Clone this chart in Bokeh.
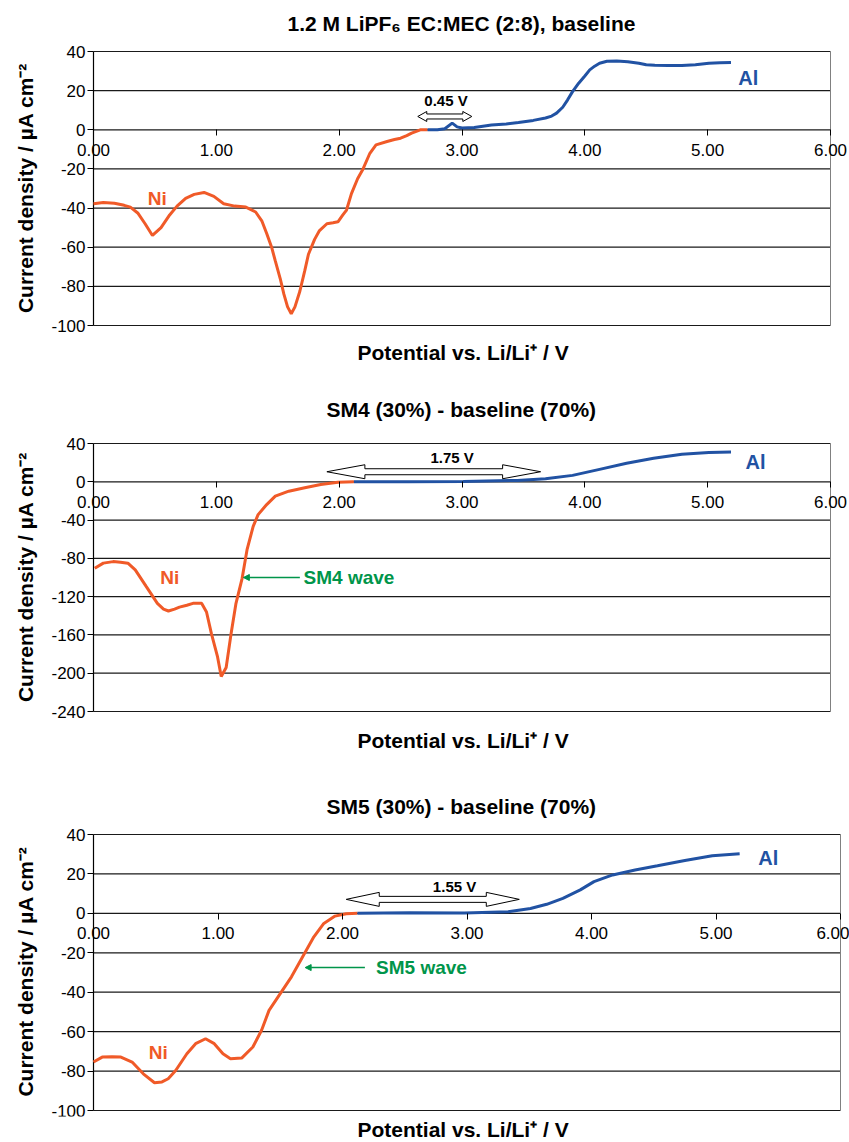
from bokeh.plotting import figure
from bokeh.layouts import column
from bokeh.models import Range1d, FixedTicker, Arrow, NormalHead, LinearAxis, Title
from bokeh.core.properties import value
from bokeh.embed import file_html
from bokeh.resources import INLINE

FONT = "Liberation Sans"
NI_COLOR = "#F05A28"
AL_COLOR = "#2152A3"
GREEN = "#00954A"

# ---------------- shared axis data ----------------
x_ticks = [0, 1, 2, 3, 4, 5, 6]
x_tick_labels = ["0.00", "1.00", "2.00", "3.00", "4.00", "5.00", "6.00"]
x_title = "Potential vs. Li/Li\u207a / V"
y_title = "Current density / \u00b5A cm\u207b\u00b2"

# ---------------- panel 1: baseline ----------------
p1_title = "1.2 M LiPF\u2086 EC:MEC (2:8), baseline"
p1_yticks = [40, 20, 0, -20, -40, -60, -80, -100]
p1_ni_x = [0.0, 0.08, 0.17, 0.25, 0.30, 0.36, 0.42, 0.48, 0.55, 0.62, 0.68, 0.75, 0.82, 0.90,
           0.98, 1.06, 1.15, 1.24, 1.32, 1.37, 1.41, 1.45, 1.48, 1.52, 1.55, 1.58, 1.61, 1.64,
           1.68, 1.72, 1.75, 1.80, 1.84, 1.90, 1.95, 1.99, 2.03, 2.06, 2.10, 2.15, 2.19, 2.25,
           2.30, 2.39, 2.45, 2.50, 2.55, 2.59, 2.66, 2.72]
p1_ni_y = [-37.8, -37.2, -37.5, -38.6, -39.5, -42.5, -48.0, -54.0, -50.0, -43.5, -39.0, -35.0, -33.0, -32.0,
           -34.0, -37.8, -39.0, -39.5, -42.0, -46.5, -53.0, -60.0, -67.0, -76.0, -84.0, -90.5, -94.0, -90.5,
           -82.5, -72.0, -63.6, -56.0, -51.5, -48.0, -47.5, -47.0, -43.5, -41.0, -32.6, -25.0, -20.6, -12.0,
           -7.7, -6.0, -5.0, -4.3, -3.0, -1.7, 0.0, 0.0]
p1_al_x = [2.72, 2.80, 2.86, 2.92, 2.96, 3.00, 3.10, 3.24, 3.36, 3.46, 3.58, 3.68, 3.73, 3.77, 3.82,
           3.86, 3.90, 3.95, 4.00, 4.04, 4.08, 4.12, 4.18, 4.26, 4.35, 4.44, 4.50, 4.57, 4.68, 4.79,
           4.90, 5.01, 5.10, 5.19]
p1_al_y = [0.0, 0.0, 0.5, 3.4, 1.5, 0.9, 1.2, 2.5, 3.0, 3.7, 4.8, 6.0, 7.0, 8.5, 11.5,
           15.3, 19.5, 23.8, 27.5, 30.6, 32.5, 34.0, 35.0, 35.2, 34.8, 34.0, 33.2, 33.0, 32.8, 32.8,
           33.2, 34.0, 34.2, 34.4]
p1_ni_label = (0.52, -35.0)
p1_al_label = (5.33, 26.5)
p1_gap = (2.64, 3.08, 6.8)       # x_start, x_end, y of the double arrow
p1_gap_text = (2.87, 15.0, "0.45 V")

# ---------------- panel 2: SM4 ----------------
p2_title = "SM4 (30%) - baseline (70%)"
p2_yticks = [40, 0, -40, -80, -120, -160, -200, -240]
p2_ni_x = [0.01, 0.08, 0.16, 0.22, 0.28, 0.34, 0.43, 0.52, 0.57, 0.61, 0.66, 0.70, 0.76, 0.81, 0.88,
           0.92, 0.96, 1.01, 1.04, 1.08, 1.12, 1.16, 1.21, 1.25, 1.30, 1.34, 1.41, 1.48, 1.59, 1.72,
           1.85, 1.99, 2.12]
p2_ni_y = [-90.4, -85.0, -83.4, -84.0, -85.0, -92.0, -109.6, -127.0, -133.0, -135.0, -133.0, -131.0, -129.0, -127.0, -127.0,
           -136.0, -158.7, -183.0, -203.5, -194.0, -158.7, -127.0, -100.9, -71.0, -46.6, -34.3, -23.8, -15.0, -9.8, -6.3,
           -2.8, -0.4, 0.0]
p2_al_x = [2.12, 2.56, 3.01, 3.45, 3.68, 3.90, 4.12, 4.34, 4.56, 4.79, 5.01, 5.19]
p2_al_y = [0.0, 0.0, 0.4, 1.4, 3.2, 6.7, 13.0, 19.3, 24.5, 28.7, 30.5, 31.0]
p2_ni_label = (0.62, -100.0)
p2_al_label = (5.39, 21.0)
p2_gap = (1.90, 3.64, 10.5)
p2_gap_text = (2.92, 25.0, "1.75 V")
p2_wave = (1.68, 1.22, -100.0, 1.71, "SM4 wave")   # arrow x_start, x_end, y, text x, text

# ---------------- panel 3: SM5 ----------------
p3_title = "SM5 (30%) - baseline (70%)"
p3_yticks = [40, 20, 0, -20, -40, -60, -80, -100]
p3_ni_x = [0.0, 0.07, 0.15, 0.22, 0.31, 0.40, 0.49, 0.55, 0.60, 0.66, 0.75, 0.82, 0.90, 0.97, 1.04,
           1.10, 1.19, 1.28, 1.35, 1.41, 1.50, 1.59, 1.68, 1.77, 1.85, 1.94, 2.03, 2.12]
p3_ni_y = [-75.4, -72.9, -72.7, -72.9, -75.4, -81.4, -85.9, -85.5, -83.9, -79.7, -71.2, -66.1, -63.6, -66.1, -71.2,
           -73.7, -73.4, -67.8, -59.3, -49.2, -40.7, -32.2, -22.0, -11.9, -5.1, -1.4, -0.2, 0.0]
p3_al_x = [2.12, 2.54, 2.98, 3.33, 3.51, 3.64, 3.77, 3.91, 4.02, 4.17, 4.35, 4.53, 4.75, 4.97, 5.19]
p3_al_y = [0.0, 0.3, 0.2, 0.8, 2.5, 4.6, 7.6, 11.9, 16.1, 19.5, 22.0, 24.1, 26.8, 29.2, 30.2]
p3_ni_label = (0.52, -70.5)
p3_al_label = (5.42, 28.0)
p3_gap = (2.03, 3.42, 7.1)
p3_gap_text = (2.90, 13.8, "1.55 V")
p3_wave = (2.18, 1.70, -27.5, 2.27, "SM5 wave")


def block_arrow(p, x0, x1, yc, sx, sy, head_len, head_half, shaft_half):
    hl = head_len / sx
    hh = head_half / sy
    sh = shaft_half / sy
    xs = [x0, x0 + hl, x0 + hl, x1 - hl, x1 - hl, x1, x1 - hl, x1 - hl, x0 + hl, x0 + hl]
    ys = [yc, yc + hh, yc + sh, yc + sh, yc + hh, yc, yc - hh, yc - sh, yc - sh, yc - hh]
    p.patch(xs, ys, fill_color="white", line_color="black", line_width=1)


def label_axis(ax, text, size, standoff):
    ax.ticker = FixedTicker(ticks=[])
    ax.axis_label = text
    ax.axis_line_alpha = 0
    ax.major_tick_out = 0
    ax.major_tick_in = 0
    ax.minor_tick_out = 0
    ax.minor_tick_in = 0
    ax.major_label_standoff = 0
    ax.axis_label_text_font = FONT
    ax.axis_label_text_font_style = "bold"
    ax.axis_label_text_font_size = size
    ax.axis_label_text_color = "black"
    ax.axis_label_standoff = standoff
    return ax


def side_title(text, offset, standoff):
    return Title(text=text, align="left", offset=offset, vertical_align="middle", standoff=standoff,
                 text_font=FONT, text_font_style="bold", text_font_size="21px", text_color="black")


def make_panel(title, yticks, ni_x, ni_y, al_x, al_y, ni_lbl, al_lbl, gap, gap_text, wave,
               height, plot_top, plot_bottom, plot_right, title_left, title_standoff,
               xtitle_standoff, head_len, head_half, shaft_half, pad_b=7):
    width = 849
    plot_left = 93          # pixel of x = 0
    frame_left = 44         # frame extends left so tick labels are not clipped
    pad_t = 8               # pixels of extra room above/below the value range
    ymin, ymax = min(yticks), max(yticks)
    sx = (plot_right - plot_left) / 6.0
    sy = (plot_bottom - plot_top) / float(ymax - ymin)
    x_lo = -(plot_left - frame_left) / sx
    x_hi = 6 + (width - plot_right) / sx

    p = figure(width=width, height=height, output_backend="svg", toolbar_location=None, title=None,
               x_range=Range1d(x_lo, x_hi), y_range=Range1d(ymin - pad_b / sy, ymax + pad_t / sy),
               min_border_left=frame_left, min_border_right=0,
               min_border_top=plot_top - pad_t, min_border_bottom=height - plot_bottom - pad_b)
    p.outline_line_alpha = 0
    p.background_fill_color = "white"
    p.border_fill_color = "white"
    p.xgrid.visible = False
    p.ygrid.visible = False

    # x axis drawn at y = 0 (no axis line; the zero grid line plays that role)
    xa = p.xaxis[0]
    xa.fixed_location = 0
    xa.ticker = FixedTicker(ticks=x_ticks)
    xa.major_label_overrides = {t: l for t, l in zip(x_ticks, x_tick_labels)}
    xa.axis_line_alpha = 0
    xa.major_tick_out = 6
    xa.major_tick_in = 0
    xa.major_tick_line_color = "black"
    xa.minor_tick_out = 0
    xa.minor_tick_in = 0
    xa.major_label_text_font = FONT
    xa.major_label_text_font_size = "17px"
    xa.major_label_text_color = "black"
    xa.major_label_standoff = 8

    # y axis drawn at x = 0
    ya = p.yaxis[0]
    ya.fixed_location = 0
    ya.ticker = FixedTicker(ticks=yticks)
    ya.major_label_overrides = {t: str(t) for t in yticks}
    ya.axis_line_alpha = 0
    ya.major_tick_out = 6
    ya.major_tick_in = 0
    ya.major_tick_line_color = "black"
    ya.minor_tick_out = 0
    ya.minor_tick_in = 0
    ya.major_label_text_font = FONT
    ya.major_label_text_font_size = "17px"
    ya.major_label_text_color = "black"
    ya.major_label_standoff = 2

    # axis titles and panel title
    p.add_layout(label_axis(LinearAxis(), y_title, "21px", 8), "left")
    p.add_layout(side_title(x_title, 357 - frame_left, xtitle_standoff), "below")
    p.add_layout(side_title(title, title_left - frame_left, title_standoff), "above")

    # grid lines, y axis line and right border of the plot area
    n = len(yticks)
    p.segment(x0=[0] * n, x1=[6] * n, y0=yticks, y1=yticks, line_color="#1a1a1a", line_width=1.2)
    p.segment(x0=[6], x1=[6], y0=[ymin], y1=[ymax], line_color="#808080", line_width=1)
    p.segment(x0=[0], x1=[0], y0=[ymin], y1=[ymax], line_color="black", line_width=1.2)

    # curves
    p.line(ni_x, ni_y, line_color=NI_COLOR, line_width=3)
    p.line(al_x, al_y, line_color=AL_COLOR, line_width=3)

    # labels
    p.text(x=[ni_lbl[0]], y=[ni_lbl[1]], text=["Ni"], text_font=value(FONT), text_font_style="bold",
           text_font_size="19px", text_color=NI_COLOR, text_align="center", text_baseline="middle")
    p.text(x=[al_lbl[0]], y=[al_lbl[1]], text=["Al"], text_font=value(FONT), text_font_style="bold",
           text_font_size="20px", text_color=AL_COLOR, text_align="center", text_baseline="middle")

    # gap double arrow
    block_arrow(p, gap[0], gap[1], gap[2], sx, sy, head_len, head_half, shaft_half)
    p.text(x=[gap_text[0]], y=[gap_text[1]], text=[gap_text[2]], text_font=value(FONT),
           text_font_style="bold", text_font_size="15px", text_color="black",
           text_align="center", text_baseline="middle")

    if wave is not None:
        p.add_layout(Arrow(end=NormalHead(size=6, fill_color=GREEN, line_color=GREEN),
                           x_start=wave[0], y_start=wave[2], x_end=wave[1], y_end=wave[2],
                           line_color=GREEN, line_width=1.5))
        p.text(x=[wave[3]], y=[wave[2]], text=[wave[4]], text_font=value(FONT),
               text_font_style="bold", text_font_size="19px", text_color=GREEN,
               text_align="left", text_baseline="middle")
    return p


f1 = make_panel(p1_title, p1_yticks, p1_ni_x, p1_ni_y, p1_al_x, p1_al_y, p1_ni_label, p1_al_label,
                p1_gap, p1_gap_text, None, height=380, plot_top=51, plot_bottom=325, plot_right=830,
                title_left=287, title_standoff=16, xtitle_standoff=14,
                head_len=9, head_half=5, shaft_half=2.5)
f2 = make_panel(p2_title, p2_yticks, p2_ni_x, p2_ni_y, p2_al_x, p2_al_y, p2_ni_label, p2_al_label,
                p2_gap, p2_gap_text, p2_wave, height=395, plot_top=63, plot_bottom=331, plot_right=830,
                title_left=326, title_standoff=28, xtitle_standoff=18,
                head_len=38, head_half=7, shaft_half=3)
f3 = make_panel(p3_title, p3_yticks, p3_ni_x, p3_ni_y, p3_al_x, p3_al_y, p3_ni_label, p3_al_label,
                p3_gap, p3_gap_text, p3_wave, height=367, plot_top=59, plot_bottom=335, plot_right=840,
                title_left=326, title_standoff=16, xtitle_standoff=0,
                head_len=33, head_half=7, shaft_half=3, pad_b=6)

layout = column(f1, f2, f3, spacing=0)
open("out.html", "w").write(file_html(layout, INLINE))
